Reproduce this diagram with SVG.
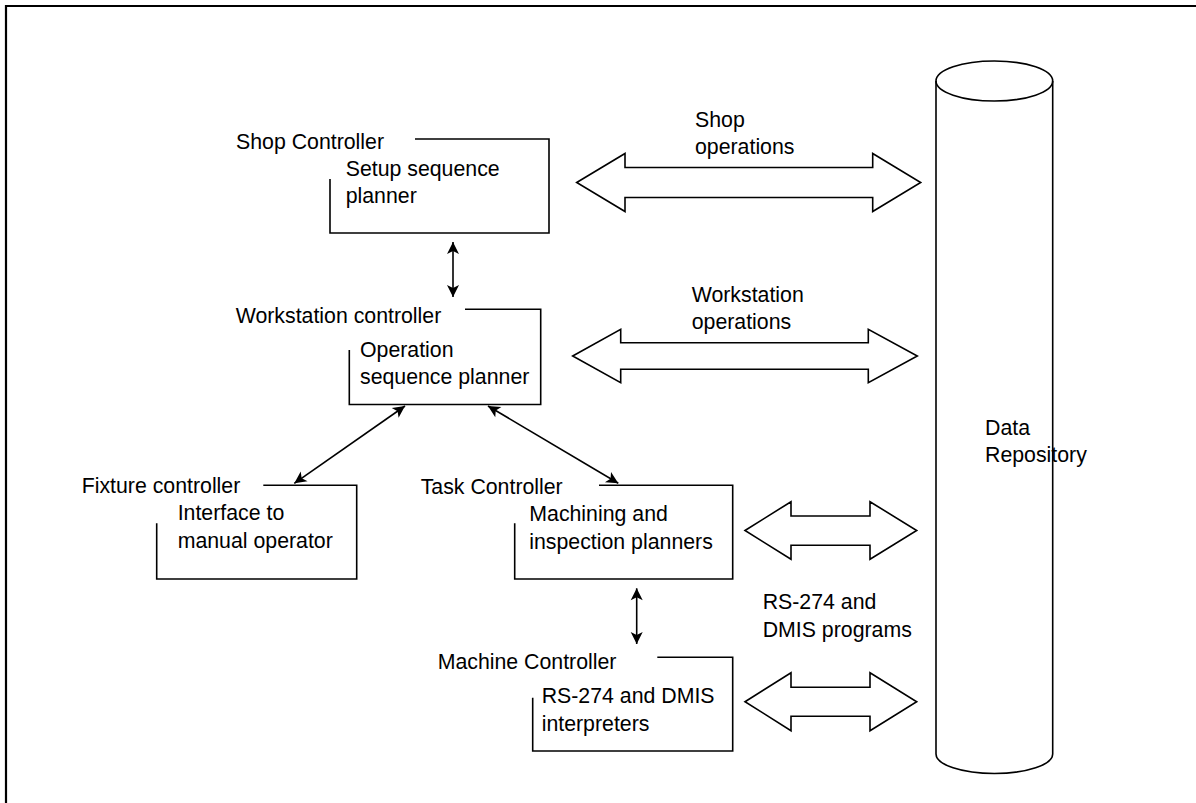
<svg xmlns="http://www.w3.org/2000/svg" width="1196" height="803" viewBox="0 0 1196 803">
<style>
text{font-family:"Liberation Sans",Arial,sans-serif;font-size:21.3px;fill:#000}
.box{fill:none;stroke:#000;stroke-width:1.6}
.blk{fill:#fff;stroke:#000;stroke-width:1.6;stroke-linejoin:miter}
.con{fill:none;stroke:#000;stroke-width:1.6}
</style>
<defs>
<marker id="ah" viewBox="0 0 14 14" refX="13" refY="7" markerWidth="14" markerHeight="14" markerUnits="userSpaceOnUse" orient="auto-start-reverse">
<path d="M1,1 L13,7 L1,13 L4,7 Z" fill="#000"/>
</marker>
</defs>
<rect width="1196" height="803" fill="#fff"/>
<path d="M6,803 L6,6 L1196,6" fill="none" stroke="#000" stroke-width="2.2"/>

<g id="shop">
<path class="box" d="M415,139 L549,139 L549,233 L330,233 L330,179"/>
<text x="236" y="148.5">Shop Controller</text>
<text x="345.7" y="175.5">Setup sequence</text>
<text x="345.7" y="203">planner</text>
</g>

<g id="workstation">
<path class="box" d="M465,309.3 L540.7,309.3 L540.7,404.5 L349.3,404.5 L349.3,350"/>
<text x="235.7" y="322.5">Workstation controller</text>
<text x="360" y="357">Operation</text>
<text x="360" y="384">sequence planner</text>
</g>

<g id="fixture">
<path class="box" d="M263.3,485.3 L356.7,485.3 L356.7,579 L156.7,579 L156.7,523.3"/>
<text x="81.7" y="492.5">Fixture controller</text>
<text x="177.7" y="520">Interface to</text>
<text x="177.7" y="547.5">manual operator</text>
</g>

<g id="task">
<path class="box" d="M599,485.3 L732.7,485.3 L732.7,579 L514.7,579 L514.7,523.3"/>
<text x="420.7" y="494">Task Controller</text>
<text x="529.3" y="521">Machining and</text>
<text x="529.3" y="548.5">inspection planners</text>
</g>

<g id="machine">
<path class="box" d="M657.3,657.3 L732.7,657.3 L732.7,751 L532.7,751 L532.7,697.7"/>
<text x="437.7" y="668.5">Machine Controller</text>
<text x="541.7" y="703">RS-274 and DMIS</text>
<text x="541.7" y="730.5">interpreters</text>
</g>

<g id="repository">
<path class="box" d="M936,81 L936,754 A58.35,19.5 0 0 0 1052.7,754 L1052.7,81"/>
<ellipse class="box" cx="994.35" cy="81" rx="58.35" ry="20"/>
<text x="985" y="435">Data</text>
<text x="985" y="462">Repository</text>
</g>

<g id="connectors">
<line class="con" x1="453" y1="242" x2="453" y2="297" marker-start="url(#ah)" marker-end="url(#ah)"/>
<line class="con" x1="405" y1="406" x2="294.3" y2="483.3" marker-start="url(#ah)" marker-end="url(#ah)"/>
<line class="con" x1="488" y1="406" x2="618.3" y2="483.3" marker-start="url(#ah)" marker-end="url(#ah)"/>
<line class="con" x1="636.7" y1="588.3" x2="636.7" y2="644" marker-start="url(#ah)" marker-end="url(#ah)"/>

<polygon class="blk" points="576.7,182.5 625,153.5 625,167.5 872.7,167.5 872.7,153.5 920.7,182.5 872.7,211.5 872.7,197.5 625,197.5 625,211.5"/>
<polygon class="blk" points="572.7,356 620.7,329.3 620.7,342.7 868.3,342.7 868.3,329.3 917.3,356 868.3,382.7 868.3,369.3 620.7,369.3 620.7,382.7"/>
<polygon class="blk" points="745,530.5 791,501.7 791,516 870,516 870,501.7 916.7,530.5 870,559.3 870,545.3 791,545.3 791,559.3"/>
<polygon class="blk" points="745,701.7 791,672.7 791,687.3 870,687.3 870,672.7 916.7,701.7 870,730.7 870,716.3 791,716.3 791,730.7"/>

<text x="695" y="127">Shop</text>
<text x="695" y="154">operations</text>
<text x="691.7" y="302">Workstation</text>
<text x="691.7" y="329">operations</text>
<text x="762.7" y="609">RS-274 and</text>
<text x="762.7" y="636.7">DMIS programs</text>
</g>
</svg>
